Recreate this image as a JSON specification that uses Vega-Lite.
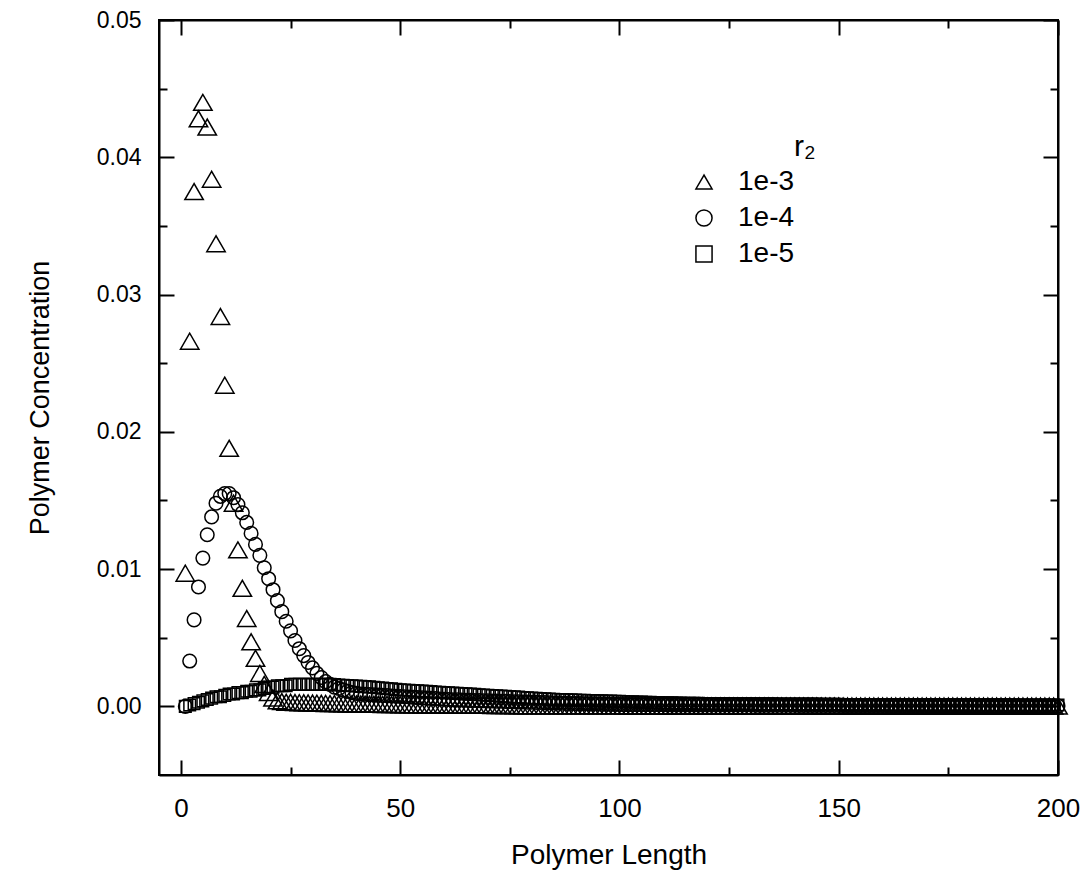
{
"$schema": "https://vega.github.io/schema/vega-lite/v6.json",
"width": 899, "height": 755,
"autosize": {"type": "none"},
"padding": {"left": 159, "top": 20, "right": 30, "bottom": 100},
"background": "white",
"config": {
 "view": {"stroke": "black", "strokeWidth": 2},
 "font": "Liberation Sans",
 "axis": {"grid": false, "domainColor": "black", "domainWidth": 2, "tickColor": "black", "tickWidth": 2, "labelColor": "black", "titleColor": "black", "titleFontWeight": "normal", "labelFont": "Liberation Sans", "titleFont": "Liberation Sans", "labelFlush": false, "labelOverlap": false},
 "legend": {"orient": "none", "legendX": 531, "legendY": 112, "padding": 0, "titleFontSize": 30, "titleFontWeight": "normal", "titleAnchor": "end", "titleAlign": "left", "titleColor": "black", "titlePadding": 6, "labelFontSize": 28, "labelColor": "black", "labelOffset": 20, "rowPadding": 8, "symbolSize": 260, "symbolStrokeColor": "black", "symbolStrokeWidth": 1.5, "symbolFillColor": "transparent", "labelFont": "Liberation Sans", "titleFont": "Liberation Sans"}
},
"datasets": {
"t": [{"x":1,"y":0.0097},{"x":2,"y":0.0266},{"x":3,"y":0.0375},{"x":4,"y":0.0428},{"x":5,"y":0.044},{"x":6,"y":0.0422},{"x":7,"y":0.0384},{"x":8,"y":0.0337},{"x":9,"y":0.0284},{"x":10,"y":0.0234},
{"x":11,"y":0.0188},{"x":12,"y":0.0148},{"x":13,"y":0.0114},{"x":14,"y":0.0086},{"x":15,"y":0.0064},{"x":16,"y":0.0047},{"x":17,"y":0.0035},{"x":18,"y":0.0024},{"x":19,"y":0.0016},{"x":20,"y":0.001},
{"x":21,"y":0.0006},{"x":22,"y":0.0004},{"x":23,"y":0.00035},{"x":24,"y":0.0003},{"x":25,"y":0.0003},{"x":26,"y":0.00028},{"x":27,"y":0.00027},{"x":28,"y":0.00026},{"x":29,"y":0.00025},{"x":30,"y":0.00024},
{"x":31,"y":0.00023},{"x":32,"y":0.00022},{"x":33,"y":0.00021},{"x":34,"y":0.0002},{"x":35,"y":0.0002},{"x":36,"y":0.00019},{"x":37,"y":0.00019},{"x":38,"y":0.00018},{"x":39,"y":0.00018},{"x":40,"y":0.00017},
{"x":41,"y":0.00017},{"x":42,"y":0.00016},{"x":43,"y":0.00016},{"x":44,"y":0.00015},{"x":45,"y":0.00015},{"x":46,"y":0.00014},{"x":47,"y":0.00014},{"x":48,"y":0.00013},{"x":49,"y":0.00013},{"x":50,"y":0.00012},
{"x":51,"y":0.00012},{"x":52,"y":0.00011},{"x":53,"y":0.00011},{"x":54,"y":0.00011},{"x":55,"y":0.0001},{"x":56,"y":0.0001},{"x":57,"y":0.0001},{"x":58,"y":0.00009},{"x":59,"y":0.00009},{"x":60,"y":0.00009},
{"x":61,"y":0.00008},{"x":62,"y":0.00008},{"x":63,"y":0.00008},{"x":64,"y":0.00008},{"x":65,"y":0.00008},{"x":66,"y":0.00008},{"x":67,"y":0.00008},{"x":68,"y":0.00008},{"x":69,"y":0.00008},{"x":70,"y":0.00008},
{"x":71,"y":0.00006},{"x":72,"y":0.00006},{"x":73,"y":0.00006},{"x":74,"y":0.00006},{"x":75,"y":0.00006},{"x":76,"y":0.00005},{"x":77,"y":0.00005},{"x":78,"y":0.00005},{"x":79,"y":0.00005},{"x":80,"y":0.00005},
{"x":81,"y":0.00004},{"x":82,"y":0.00004},{"x":83,"y":0.00004},{"x":84,"y":0.00004},{"x":85,"y":0.00004},{"x":86,"y":0.00004},{"x":87,"y":0.00004},{"x":88,"y":0.00004},{"x":89,"y":0.00004},{"x":90,"y":0.00004},
{"x":91,"y":0.00004},{"x":92,"y":0.00004},{"x":93,"y":0.00004},{"x":94,"y":0.00004},{"x":95,"y":0.00004},{"x":96,"y":0.00004},{"x":97,"y":0.00004},{"x":98,"y":0.00004},{"x":99,"y":0.00004},{"x":100,"y":0.00004},
{"x":101,"y":0.00003},{"x":102,"y":0.00003},{"x":103,"y":0.00003},{"x":104,"y":0.00003},{"x":105,"y":0.00003},{"x":106,"y":0.00003},{"x":107,"y":0.00003},{"x":108,"y":0.00003},{"x":109,"y":0.00003},{"x":110,"y":0.00003},
{"x":111,"y":0.00003},{"x":112,"y":0.00003},{"x":113,"y":0.00003},{"x":114,"y":0.00003},{"x":115,"y":0.00003},{"x":116,"y":0.00003},{"x":117,"y":0.00003},{"x":118,"y":0.00003},{"x":119,"y":0.00003},{"x":120,"y":0.00003},
{"x":121,"y":0.00003},{"x":122,"y":0.00003},{"x":123,"y":0.00003},{"x":124,"y":0.00003},{"x":125,"y":0.00003},{"x":126,"y":0.00003},{"x":127,"y":0.00003},{"x":128,"y":0.00003},{"x":129,"y":0.00003},{"x":130,"y":0.00003},
{"x":131,"y":0.00003},{"x":132,"y":0.00003},{"x":133,"y":0.00003},{"x":134,"y":0.00003},{"x":135,"y":0.00003},{"x":136,"y":0.00003},{"x":137,"y":0.00003},{"x":138,"y":0.00003},{"x":139,"y":0.00003},{"x":140,"y":0.00003},
{"x":141,"y":0.00003},{"x":142,"y":0.00003},{"x":143,"y":0.00003},{"x":144,"y":0.00003},{"x":145,"y":0.00003},{"x":146,"y":0.00003},{"x":147,"y":0.00003},{"x":148,"y":0.00003},{"x":149,"y":0.00003},{"x":150,"y":0.00003},
{"x":151,"y":0.00002},{"x":152,"y":0.00002},{"x":153,"y":0.00002},{"x":154,"y":0.00002},{"x":155,"y":0.00002},{"x":156,"y":0.00002},{"x":157,"y":0.00002},{"x":158,"y":0.00002},{"x":159,"y":0.00002},{"x":160,"y":0.00002},
{"x":161,"y":0.00002},{"x":162,"y":0.00002},{"x":163,"y":0.00002},{"x":164,"y":0.00002},{"x":165,"y":0.00002},{"x":166,"y":0.00002},{"x":167,"y":0.00002},{"x":168,"y":0.00002},{"x":169,"y":0.00002},{"x":170,"y":0.00002},
{"x":171,"y":0.00002},{"x":172,"y":0.00002},{"x":173,"y":0.00002},{"x":174,"y":0.00002},{"x":175,"y":0.00002},{"x":176,"y":0.00002},{"x":177,"y":0.00002},{"x":178,"y":0.00002},{"x":179,"y":0.00002},{"x":180,"y":0.00002},
{"x":181,"y":0.00002},{"x":182,"y":0.00002},{"x":183,"y":0.00002},{"x":184,"y":0.00002},{"x":185,"y":0.00002},{"x":186,"y":0.00002},{"x":187,"y":0.00002},{"x":188,"y":0.00002},{"x":189,"y":0.00002},{"x":190,"y":0.00002},
{"x":191,"y":0.00002},{"x":192,"y":0.00002},{"x":193,"y":0.00002},{"x":194,"y":0.00002},{"x":195,"y":0.00002},{"x":196,"y":0.00002},{"x":197,"y":0.00002},{"x":198,"y":0.00002},{"x":199,"y":0.00002},{"x":200,"y":0.00002}],
"c": [{"x":1,"y":0},{"x":2,"y":0.0033},{"x":3,"y":0.0063},{"x":4,"y":0.0087},{"x":5,"y":0.0108},{"x":6,"y":0.0125},{"x":7,"y":0.0138},{"x":8,"y":0.0148},{"x":9,"y":0.0153},{"x":10,"y":0.0155},
{"x":11,"y":0.0155},{"x":12,"y":0.0152},{"x":13,"y":0.0147},{"x":14,"y":0.0141},{"x":15,"y":0.0134},{"x":16,"y":0.0126},{"x":17,"y":0.0118},{"x":18,"y":0.011},{"x":19,"y":0.0101},{"x":20,"y":0.0093},
{"x":21,"y":0.0085},{"x":22,"y":0.0077},{"x":23,"y":0.0069},{"x":24,"y":0.0062},{"x":25,"y":0.0055},{"x":26,"y":0.0048},{"x":27,"y":0.0042},{"x":28,"y":0.0037},{"x":29,"y":0.0032},{"x":30,"y":0.0028},
{"x":31,"y":0.0024},{"x":32,"y":0.0021},{"x":33,"y":0.0018},{"x":34,"y":0.0016},{"x":35,"y":0.0014},{"x":36,"y":0.0013},{"x":37,"y":0.0012},{"x":38,"y":0.0011},{"x":39,"y":0.001},{"x":40,"y":0.00095},
{"x":41,"y":0.0009},{"x":42,"y":0.00088},{"x":43,"y":0.00086},{"x":44,"y":0.00084},{"x":45,"y":0.00082},{"x":46,"y":0.0008},{"x":47,"y":0.00078},{"x":48,"y":0.00076},{"x":49,"y":0.00074},{"x":50,"y":0.00072},
{"x":51,"y":0.0007},{"x":52,"y":0.00068},{"x":53,"y":0.00066},{"x":54,"y":0.00064},{"x":55,"y":0.00062},{"x":56,"y":0.0006},{"x":57,"y":0.00058},{"x":58,"y":0.00056},{"x":59,"y":0.00054},{"x":60,"y":0.00052},
{"x":61,"y":0.0005},{"x":62,"y":0.00048},{"x":63,"y":0.00047},{"x":64,"y":0.00046},{"x":65,"y":0.00045},{"x":66,"y":0.00044},{"x":67,"y":0.00043},{"x":68,"y":0.00042},{"x":69,"y":0.00041},{"x":70,"y":0.0004},
{"x":71,"y":0.00039},{"x":72,"y":0.00038},{"x":73,"y":0.00037},{"x":74,"y":0.00036},{"x":75,"y":0.00035},{"x":76,"y":0.00034},{"x":77,"y":0.00033},{"x":78,"y":0.00032},{"x":79,"y":0.00031},{"x":80,"y":0.0003},
{"x":81,"y":0.00029},{"x":82,"y":0.00028},{"x":83,"y":0.00027},{"x":84,"y":0.00026},{"x":85,"y":0.00025},{"x":86,"y":0.00024},{"x":87,"y":0.00023},{"x":88,"y":0.00022},{"x":89,"y":0.00021},{"x":90,"y":0.0002},
{"x":91,"y":0.0002},{"x":92,"y":0.00019},{"x":93,"y":0.00018},{"x":94,"y":0.00018},{"x":95,"y":0.00017},{"x":96,"y":0.00016},{"x":97,"y":0.00016},{"x":98,"y":0.00015},{"x":99,"y":0.00015},{"x":100,"y":0.00014},
{"x":101,"y":0.00013},{"x":102,"y":0.00013},{"x":103,"y":0.00013},{"x":104,"y":0.00013},{"x":105,"y":0.00013},{"x":106,"y":0.00013},{"x":107,"y":0.00013},{"x":108,"y":0.00013},{"x":109,"y":0.00013},{"x":110,"y":0.00013},
{"x":111,"y":0.00011},{"x":112,"y":0.00011},{"x":113,"y":0.00011},{"x":114,"y":0.00011},{"x":115,"y":0.00011},{"x":116,"y":0.00011},{"x":117,"y":0.00011},{"x":118,"y":0.00011},{"x":119,"y":0.00011},{"x":120,"y":0.00011},
{"x":121,"y":0.0001},{"x":122,"y":0.0001},{"x":123,"y":0.0001},{"x":124,"y":0.0001},{"x":125,"y":0.0001},{"x":126,"y":0.0001},{"x":127,"y":0.0001},{"x":128,"y":0.0001},{"x":129,"y":0.0001},{"x":130,"y":0.0001},
{"x":131,"y":0.00008},{"x":132,"y":0.00008},{"x":133,"y":0.00008},{"x":134,"y":0.00008},{"x":135,"y":0.00008},{"x":136,"y":0.00008},{"x":137,"y":0.00008},{"x":138,"y":0.00008},{"x":139,"y":0.00008},{"x":140,"y":0.00008},
{"x":141,"y":0.00007},{"x":142,"y":0.00007},{"x":143,"y":0.00007},{"x":144,"y":0.00007},{"x":145,"y":0.00007},{"x":146,"y":0.00007},{"x":147,"y":0.00007},{"x":148,"y":0.00007},{"x":149,"y":0.00007},{"x":150,"y":0.00007},
{"x":151,"y":0.00006},{"x":152,"y":0.00006},{"x":153,"y":0.00006},{"x":154,"y":0.00006},{"x":155,"y":0.00006},{"x":156,"y":0.00006},{"x":157,"y":0.00006},{"x":158,"y":0.00006},{"x":159,"y":0.00006},{"x":160,"y":0.00006},
{"x":161,"y":0.00005},{"x":162,"y":0.00005},{"x":163,"y":0.00005},{"x":164,"y":0.00005},{"x":165,"y":0.00005},{"x":166,"y":0.00005},{"x":167,"y":0.00005},{"x":168,"y":0.00005},{"x":169,"y":0.00005},{"x":170,"y":0.00005},
{"x":171,"y":0.00004},{"x":172,"y":0.00004},{"x":173,"y":0.00004},{"x":174,"y":0.00004},{"x":175,"y":0.00004},{"x":176,"y":0.00004},{"x":177,"y":0.00004},{"x":178,"y":0.00004},{"x":179,"y":0.00004},{"x":180,"y":0.00004},
{"x":181,"y":0.00003},{"x":182,"y":0.00003},{"x":183,"y":0.00003},{"x":184,"y":0.00003},{"x":185,"y":0.00003},{"x":186,"y":0.00003},{"x":187,"y":0.00003},{"x":188,"y":0.00003},{"x":189,"y":0.00003},{"x":190,"y":0.00003},
{"x":191,"y":0.00003},{"x":192,"y":0.00003},{"x":193,"y":0.00003},{"x":194,"y":0.00003},{"x":195,"y":0.00003},{"x":196,"y":0.00003},{"x":197,"y":0.00003},{"x":198,"y":0.00003},{"x":199,"y":0.00003},{"x":200,"y":0.00003}],
"s": [{"x":1,"y":0},{"x":2,"y":0.0001},{"x":3,"y":0.0002},{"x":4,"y":0.0003},{"x":5,"y":0.0004},{"x":6,"y":0.0005},{"x":7,"y":0.0006},{"x":8,"y":0.0007},{"x":9,"y":0.0007},{"x":10,"y":0.0008},
{"x":11,"y":0.0009},{"x":12,"y":0.0009},{"x":13,"y":0.001},{"x":14,"y":0.001},{"x":15,"y":0.0011},{"x":16,"y":0.0011},{"x":17,"y":0.0012},{"x":18,"y":0.0012},{"x":19,"y":0.0013},{"x":20,"y":0.0014},
{"x":21,"y":0.0014},{"x":22,"y":0.0015},{"x":23,"y":0.0015},{"x":24,"y":0.0015},{"x":25,"y":0.0016},{"x":26,"y":0.0016},{"x":27,"y":0.0016},{"x":28,"y":0.0016},{"x":29,"y":0.0016},{"x":30,"y":0.0016},
{"x":31,"y":0.0016},{"x":32,"y":0.0016},{"x":33,"y":0.0016},{"x":34,"y":0.0016},{"x":35,"y":0.00158},{"x":36,"y":0.00156},{"x":37,"y":0.00154},{"x":38,"y":0.00152},{"x":39,"y":0.0015},{"x":40,"y":0.00148},
{"x":41,"y":0.00146},{"x":42,"y":0.00144},{"x":43,"y":0.00142},{"x":44,"y":0.00139},{"x":45,"y":0.00136},{"x":46,"y":0.00133},{"x":47,"y":0.0013},{"x":48,"y":0.00127},{"x":49,"y":0.00124},{"x":50,"y":0.00121},
{"x":51,"y":0.00119},{"x":52,"y":0.00117},{"x":53,"y":0.00115},{"x":54,"y":0.00113},{"x":55,"y":0.00111},{"x":56,"y":0.00109},{"x":57,"y":0.00107},{"x":58,"y":0.00105},{"x":59,"y":0.00103},{"x":60,"y":0.00101},
{"x":61,"y":0.00099},{"x":62,"y":0.00097},{"x":63,"y":0.00095},{"x":64,"y":0.00093},{"x":65,"y":0.00091},{"x":66,"y":0.00089},{"x":67,"y":0.00087},{"x":68,"y":0.00085},{"x":69,"y":0.00083},{"x":70,"y":0.00081},
{"x":71,"y":0.00079},{"x":72,"y":0.00077},{"x":73,"y":0.00075},{"x":74,"y":0.00073},{"x":75,"y":0.00071},{"x":76,"y":0.00069},{"x":77,"y":0.00067},{"x":78,"y":0.00065},{"x":79,"y":0.00063},{"x":80,"y":0.00061},
{"x":81,"y":0.00059},{"x":82,"y":0.00057},{"x":83,"y":0.00055},{"x":84,"y":0.00053},{"x":85,"y":0.00051},{"x":86,"y":0.0005},{"x":87,"y":0.00049},{"x":88,"y":0.00048},{"x":89,"y":0.00047},{"x":90,"y":0.00046},
{"x":91,"y":0.00045},{"x":92,"y":0.00044},{"x":93,"y":0.00043},{"x":94,"y":0.00042},{"x":95,"y":0.00041},{"x":96,"y":0.0004},{"x":97,"y":0.00039},{"x":98,"y":0.00038},{"x":99,"y":0.00037},{"x":100,"y":0.00036},
{"x":101,"y":0.00035},{"x":102,"y":0.00034},{"x":103,"y":0.00033},{"x":104,"y":0.00032},{"x":105,"y":0.00031},{"x":106,"y":0.0003},{"x":107,"y":0.00029},{"x":108,"y":0.00028},{"x":109,"y":0.00027},{"x":110,"y":0.00026},
{"x":111,"y":0.00025},{"x":112,"y":0.00025},{"x":113,"y":0.00024},{"x":114,"y":0.00024},{"x":115,"y":0.00023},{"x":116,"y":0.00023},{"x":117,"y":0.00022},{"x":118,"y":0.00022},{"x":119,"y":0.00021},{"x":120,"y":0.00021},
{"x":121,"y":0.0002},{"x":122,"y":0.0002},{"x":123,"y":0.0002},{"x":124,"y":0.0002},{"x":125,"y":0.0002},{"x":126,"y":0.00019},{"x":127,"y":0.00019},{"x":128,"y":0.00019},{"x":129,"y":0.00019},{"x":130,"y":0.00019},
{"x":131,"y":0.00018},{"x":132,"y":0.00018},{"x":133,"y":0.00018},{"x":134,"y":0.00018},{"x":135,"y":0.00018},{"x":136,"y":0.00017},{"x":137,"y":0.00017},{"x":138,"y":0.00017},{"x":139,"y":0.00017},{"x":140,"y":0.00017},
{"x":141,"y":0.00016},{"x":142,"y":0.00016},{"x":143,"y":0.00016},{"x":144,"y":0.00016},{"x":145,"y":0.00016},{"x":146,"y":0.00015},{"x":147,"y":0.00015},{"x":148,"y":0.00015},{"x":149,"y":0.00015},{"x":150,"y":0.00015},
{"x":151,"y":0.00014},{"x":152,"y":0.00014},{"x":153,"y":0.00014},{"x":154,"y":0.00014},{"x":155,"y":0.00014},{"x":156,"y":0.00014},{"x":157,"y":0.00014},{"x":158,"y":0.00014},{"x":159,"y":0.00014},{"x":160,"y":0.00014},
{"x":161,"y":0.00013},{"x":162,"y":0.00013},{"x":163,"y":0.00013},{"x":164,"y":0.00013},{"x":165,"y":0.00013},{"x":166,"y":0.00013},{"x":167,"y":0.00013},{"x":168,"y":0.00013},{"x":169,"y":0.00013},{"x":170,"y":0.00013},
{"x":171,"y":0.00012},{"x":172,"y":0.00012},{"x":173,"y":0.00012},{"x":174,"y":0.00012},{"x":175,"y":0.00012},{"x":176,"y":0.00012},{"x":177,"y":0.00012},{"x":178,"y":0.00012},{"x":179,"y":0.00012},{"x":180,"y":0.00012},
{"x":181,"y":0.00011},{"x":182,"y":0.00011},{"x":183,"y":0.00011},{"x":184,"y":0.00011},{"x":185,"y":0.00011},{"x":186,"y":0.00011},{"x":187,"y":0.00011},{"x":188,"y":0.00011},{"x":189,"y":0.00011},{"x":190,"y":0.00011},
{"x":191,"y":0.0001},{"x":192,"y":0.0001},{"x":193,"y":0.0001},{"x":194,"y":0.0001},{"x":195,"y":0.0001},{"x":196,"y":0.0001},{"x":197,"y":0.0001},{"x":198,"y":0.0001},{"x":199,"y":0.0001},{"x":200,"y":0.0001}]
},
"layer": [
 {
  "data": {"name": "t"},
  "mark": {"type": "point", "filled": false, "color": "black", "strokeWidth": 1.5, "size": 340, "opacity": 1},
  "encoding": {
   "x": {"field": "x", "type": "quantitative", "scale": {"domain": [-5, 200], "nice": false, "zero": false},
    "axis": {"orient": "bottom", "values": [0, 25, 50, 75, 100, 125, 150, 175, 200],
     "tickSize": {"condition": {"test": "datum.value % 50 == 0", "value": -15}, "value": -8},
     "labelExpr": "datum.value % 50 == 0 ? datum.label : ''", "labelPadding": 35, "labelFontSize": 26,
     "title": "Polymer Length", "titleFontSize": 28, "titlePadding": 13}},
   "y": {"field": "y", "type": "quantitative", "scale": {"domain": [-0.005, 0.05], "nice": false, "zero": false},
    "axis": {"orient": "left", "values": [0, 0.005, 0.01, 0.015, 0.02, 0.025, 0.03, 0.035, 0.04, 0.045, 0.05], "format": ".2f",
     "tickSize": {"condition": {"test": "round(datum.value * 1000) % 10 == 0", "value": -15}, "value": -8},
     "labelExpr": "round(datum.value * 1000) % 10 == 0 ? datum.label : ''", "labelPadding": 33, "labelFontSize": 23,
     "title": "Polymer Concentration", "titleFontSize": 27, "titlePadding": 42}},
   "shape": {"datum": "1e-3", "type": "nominal", "title": "r₂",
    "scale": {"domain": ["1e-3", "1e-4", "1e-5"], "range": ["triangle-up", "circle", "square"]}}
  }
 },
 {
  "data": {"name": "c"},
  "mark": {"type": "point", "filled": false, "color": "black", "strokeWidth": 1.5, "size": 185, "opacity": 1},
  "encoding": {
   "x": {"field": "x", "type": "quantitative", "axis": null},
   "y": {"field": "y", "type": "quantitative", "axis": null},
   "shape": {"datum": "1e-4", "type": "nominal", "title": "r₂"}
  }
 },
 {
  "data": {"name": "s"},
  "mark": {"type": "point", "filled": false, "color": "black", "strokeWidth": 1.5, "size": 135, "opacity": 1},
  "encoding": {
   "x": {"field": "x", "type": "quantitative",
    "axis": {"orient": "top", "values": [0, 25, 50, 75, 100, 125, 150, 175, 200], "labels": false, "title": null,
     "tickSize": {"condition": {"test": "datum.value % 50 == 0", "value": -15}, "value": -8}}},
   "y": {"field": "y", "type": "quantitative",
    "axis": {"orient": "right", "values": [0, 0.005, 0.01, 0.015, 0.02, 0.025, 0.03, 0.035, 0.04, 0.045, 0.05], "labels": false, "title": null,
     "tickSize": {"condition": {"test": "round(datum.value * 1000) % 10 == 0", "value": -15}, "value": -8}}},
   "shape": {"datum": "1e-5", "type": "nominal", "title": "r₂"}
  }
 }
],
"resolve": {"scale": {"x": "shared", "y": "shared"}, "axis": {"x": "independent", "y": "independent"}}
}
